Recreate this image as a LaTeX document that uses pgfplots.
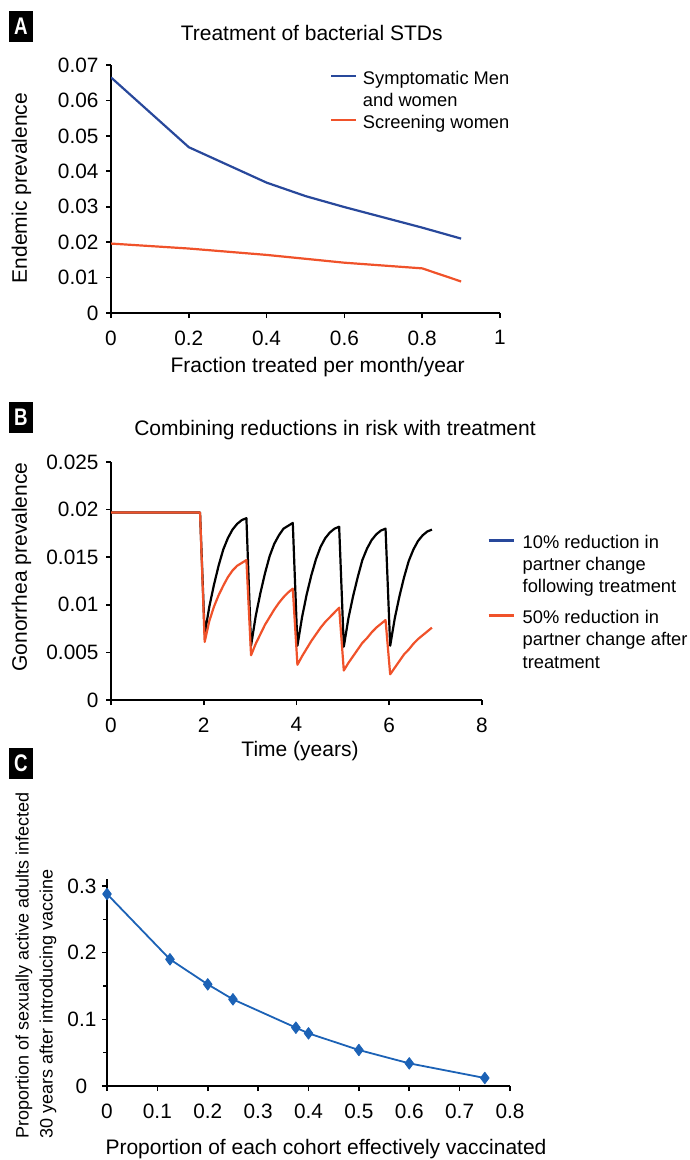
\documentclass[border=0pt]{standalone}
\usepackage{fontspec}
\setmainfont{Liberation Sans}
\usepackage{graphicx}
\usepackage{pgfplots}
\pgfplotsset{compat=1.18}

\definecolor{ablue}{RGB}{40,72,155}
\definecolor{ared}{RGB}{240,82,42}
\definecolor{cblue}{RGB}{28,98,182}

\newcommand{\tickfont}{\fontsize{20.8}{24}\selectfont}
\newcommand{\labfont}{\fontsize{21}{25}\selectfont}
\newcommand{\legfont}{\fontsize{18.3}{22}\selectfont}

\pgfplotsset{
  panel/.style={
    scale only axis, axis lines=left,
    axis line style={-, line width=2.4pt, black},
    tick align=outside, major tick length=5pt, minor tick length=4pt,
    tick style={black, line width=1.6pt},
    tick label style={font=\tickfont},
    xticklabel style={yshift=-9pt},
    yticklabel style={xshift=-4pt},
    /pgf/number format/assume math mode=true,
    scaled ticks=false,
    legend image code/.code={\draw[##1, line width=2.4pt] (0pt,1.5pt) -- (25pt,1.5pt);},
    legend style={draw=none, fill=none, inner sep=0pt, outer sep=0pt,
      row sep=1.2pt, font=\legfont, cells={anchor=west}},
  },
}

% Panel B time series: model prevalence under two behavioural scenarios
\pgfplotstableread{
t p
0 0.0197
1.92 0.0197
2.02 0.0069
2.12 0.0098
2.22 0.0121
2.32 0.0141
2.42 0.0158
2.52 0.0170
2.62 0.0179
2.72 0.0185
2.82 0.0189
2.92 0.0191
3.02 0.0057
3.12 0.0088
3.22 0.0112
3.32 0.0133
3.42 0.0151
3.52 0.0164
3.62 0.0173
3.72 0.0180
3.82 0.0183
3.92 0.0186
4.02 0.0057
4.12 0.0087
4.22 0.0111
4.32 0.0131
4.42 0.0148
4.52 0.0161
4.62 0.0170
4.72 0.0176
4.82 0.0180
4.92 0.0182
5.02 0.0056
5.12 0.0086
5.22 0.0109
5.32 0.0129
5.42 0.0147
5.52 0.0159
5.62 0.0168
5.72 0.0174
5.82 0.0178
5.92 0.0180
6.02 0.0057
6.12 0.0086
6.22 0.0109
6.32 0.0129
6.42 0.0146
6.52 0.0158
6.62 0.0167
6.72 0.0173
6.82 0.0177
6.92 0.0179
}\tenpct

\pgfplotstableread{
t p
0 0.0197
1.92 0.0197
2.02 0.0061
2.12 0.0083
2.22 0.0098
2.32 0.0110
2.42 0.0120
2.52 0.0129
2.62 0.0136
2.72 0.0141
2.82 0.0144
2.92 0.0147
3.02 0.0047
3.12 0.0059
3.22 0.0069
3.32 0.0079
3.42 0.0087
3.52 0.0095
3.62 0.0102
3.72 0.0108
3.82 0.0113
3.92 0.0117
4.02 0.0037
4.12 0.0046
4.22 0.0054
4.32 0.0062
4.42 0.0069
4.52 0.0076
4.62 0.0082
4.72 0.0087
4.82 0.0092
4.92 0.0097
5.02 0.0031
5.12 0.0039
5.22 0.0046
5.32 0.0053
5.42 0.0060
5.52 0.0065
5.62 0.0071
5.72 0.0076
5.82 0.0080
5.92 0.0084
6.02 0.0027
6.12 0.0034
6.22 0.0041
6.32 0.0048
6.42 0.0053
6.52 0.0059
6.62 0.0064
6.72 0.0068
6.82 0.0072
6.92 0.0076
}\fiftypct

\begin{document}
\begin{tikzpicture}
\path[use as bounding box] (0pt,0pt) rectangle (689pt,-1160pt);

% ---------------- Panel A ----------------
\begin{axis}[panel, at={(111pt,-313pt)}, anchor=south west,
  width=389pt, height=248pt,
  xmin=0, xmax=1, ymin=0, ymax=0.07,
  xtick={0,0.2,0.4,0.6,0.8,1},
  ytick={0,0.01,0.02,0.03,0.04,0.05,0.06,0.07},
  yticklabel style={/pgf/number format/fixed, /pgf/number format/precision=2},
  xticklabel style={/pgf/number format/fixed},
  legend style={at={(axis description cs:0.563,0.992)}, anchor=north west,
    column sep=3.5pt},
]
\addplot[ablue, line width=2.2pt, line join=round] coordinates {
  (0,0.0665) (0.2,0.0468) (0.4,0.0368) (0.5,0.0330) (0.6,0.0299) (0.8,0.0241) (0.9,0.0210)};
\addlegendentry{\strut Symptomatic Men}
\addlegendimage{empty legend}
\addlegendentry{\strut and women}
\addplot[ared, line width=2.2pt, line join=round] coordinates {
  (0,0.0196) (0.2,0.0182) (0.4,0.0164) (0.6,0.0142) (0.8,0.0126) (0.9,0.0089)};
\addlegendentry{\strut Screening women}
\end{axis}

% ---------------- Panel B ----------------
\begin{axis}[panel, at={(111pt,-700pt)}, anchor=south west,
  width=371pt, height=238pt,
  xmin=0, xmax=8, ymin=0, ymax=0.025,
  xtick={0,2,4,6,8},
  ytick={0,0.005,0.01,0.015,0.02,0.025},
  yticklabel style={/pgf/number format/fixed, /pgf/number format/precision=3},
  legend style={at={(axis description cs:1.0143,0.7085)}, anchor=north west,
    column sep=6pt},
]
\addplot[black, line width=2.2pt, line join=round, forget plot] table[x=t,y=p] {\tenpct};
\addplot[ared, line width=2.2pt, line join=round, forget plot] table[x=t,y=p] {\fiftypct};
\addlegendimage{ablue}
\addlegendentry{\strut 10\% reduction in}
\addlegendimage{empty legend}
\addlegendentry{\strut partner change}
\addlegendimage{empty legend}
\addlegendentry{\strut following treatment}
\end{axis}
% second legend group of panel B
\begin{axis}[panel, hide axis, at={(111pt,-700pt)}, anchor=south west,
  width=371pt, height=238pt,
  xmin=0, xmax=8, ymin=0, ymax=0.025,
  legend style={at={(axis description cs:1.0143,0.393)}, anchor=north west,
    column sep=6pt},
]
\addlegendimage{ared}
\addlegendentry{\strut 50\% reduction in}
\addlegendimage{empty legend}
\addlegendentry{\strut partner change after}
\addlegendimage{empty legend}
\addlegendentry{\strut treatment}
\end{axis}

% ---------------- Panel C ----------------
\begin{axis}[panel, at={(107pt,-1086pt)}, anchor=south west,
  width=403pt, height=206.7pt,
  xmin=0, xmax=0.8, ymin=0, ymax=0.31,
  xtick={0,0.1,0.2,0.3,0.4,0.5,0.6,0.7,0.8},
  ytick={0,0.1,0.2,0.3},
  minor ytick={0.05,0.15,0.25},
  xticklabel style={/pgf/number format/fixed},
  yticklabel style={/pgf/number format/fixed, text width=28pt, align=center, xshift=1pt},
]
\addplot[cblue, line width=1.8pt, line join=round,
  mark=diamond*, mark size=5.8pt, mark options={fill=cblue, line width=0.8pt}]
  coordinates {
  (0,0.288) (0.125,0.190) (0.2,0.1525) (0.25,0.130) (0.375,0.0875)
  (0.4,0.079) (0.5,0.054) (0.6,0.034) (0.75,0.012)};
\end{axis}

% ---------------- Panel letters ----------------
\foreach \lab/\yy in {A/-26.5, B/-417.5, C/-763.5}{
  \node[fill=black, text=white, minimum width=24pt, minimum height=31pt,
    inner sep=0pt, font=\bfseries\fontsize{24}{24}\selectfont]
    at (21pt,\yy pt) {\scalebox{0.78}[1]{\lab}};
}

% ---------------- Titles and axis labels ----------------
\node[anchor=base, font=\labfont] at (311.7pt,-40.5pt) {Treatment of bacterial STDs};
\node[anchor=base, font=\labfont] at (317.6pt,-372.5pt) {Fraction treated per month/year};
\node[anchor=base, font=\labfont, rotate=90] at (27pt,-188pt) {Endemic prevalence};

\node[anchor=base, font=\labfont] at (335pt,-435.5pt) {Combining reductions in risk with treatment};
\node[anchor=base, font=\labfont] at (300pt,-756pt) {Time (years)};
\node[anchor=base, font=\labfont, rotate=90] at (27pt,-567pt) {Gonorrhea prevalence};

\node[anchor=base, font=\labfont] at (326pt,-1154pt) {Proportion of each cohort effectively vaccinated};
\node[anchor=base west, font=\fontsize{18}{22}\selectfont, rotate=90] at (28.7pt,-1142pt)
  {Proportion of sexually active adults infected};
\node[anchor=base west, font=\fontsize{18}{22}\selectfont, rotate=90] at (52.7pt,-1142pt)
  {30 years after introducing vaccine};
\end{tikzpicture}
\end{document}
